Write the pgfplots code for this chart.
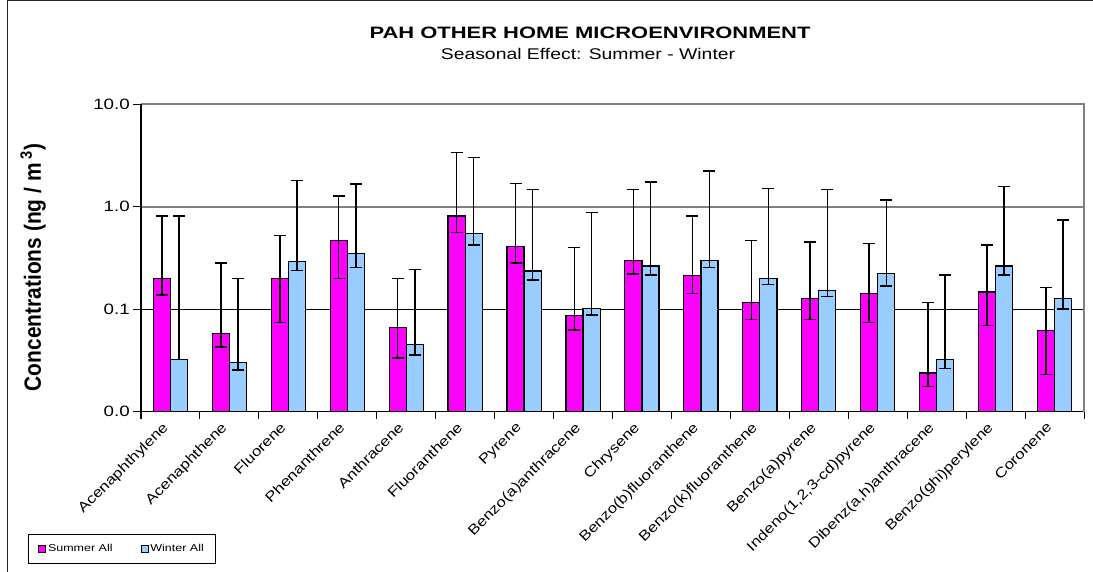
\documentclass[border=0pt]{standalone}
\usepackage{fontspec}
\setmainfont{Liberation Sans}[FakeStretch=1.25]
\newfontfamily\titlefont{Liberation Sans}[FakeStretch=1.33]
\newfontfamily\yfont{Liberation Sans}[FakeStretch=0.89]
\newfontfamily\xfont{Liberation Sans}[FakeStretch=1.2]
\usepackage{pgfplots}
\usepackage{pgfplotstable}
\pgfplotsset{compat=1.18}

\definecolor{summer}{HTML}{FF00FF}
\definecolor{winter}{HTML}{99CCFF}
\definecolor{framegray}{HTML}{808080}

% mean, upper and lower end of the error bar
\pgfplotstableread{
x y hi lo
0 0.200 0.813 0.138
1 0.0578 0.281 0.0429
2 0.200 0.522 0.0741
3 0.467 1.27 0.200
4 0.0662 0.200 0.0335
5 0.813 3.37 0.559
6 0.412 1.68 0.281
7 0.0873 0.399 0.0624
8 0.301 1.47 0.221
9 0.215 0.813 0.142
10 0.116 0.467 0.0792
11 0.128 0.454 0.0792
12 0.142 0.437 0.0741
13 0.0239 0.116 0.0176
14 0.147 0.424 0.0692
15 0.0624 0.163 0.0230
}\summerdata

\pgfplotstableread{
x y hi lo
0 0.0325 0.813 0.0322
1 0.0301 0.199 0.0256
2 0.292 1.80 0.238
3 0.347 1.67 0.255
4 0.0456 0.245 0.0358
5 0.543 3.01 0.424
6 0.236 1.47 0.193
7 0.1007 0.877 0.088
8 0.264 1.75 0.215
9 0.301 2.22 0.255
10 0.200 1.51 0.174
11 0.152 1.47 0.133
12 0.222 1.16 0.169
13 0.0325 0.215 0.0264
14 0.264 1.57 0.215
15 0.128 0.738 0.1007
}\winterdata

\begin{document}
\begin{tikzpicture}
\useasboundingbox (0pt,0pt) rectangle (1093pt,-572pt);
% chart area border
\draw[black!85, line width=1pt] (7pt,-573pt) -- (7pt,-1pt) -- (1094pt,-1pt);

\node[anchor=base, font=\titlefont\bfseries\fontsize{16.5}{20}\selectfont] at (590pt,-38.3pt) {PAH OTHER HOME MICROENVIRONMENT};
\node[anchor=base, font=\fontsize{15.5}{18}\selectfont] at (588pt,-59.3pt) {Seasonal Effect: Summer - Winter};

\begin{axis}[name=ax,
    at={(141pt,-411.7pt)}, anchor=south west,
    scale only axis, width=943pt, height=307.5pt,
    ymode=log, ymin=0.01, ymax=10, log origin=infty,
    xmin=-0.5, xmax=15.5,
    ybar=0pt, bar width=0.29,
    axis x line*=bottom, axis y line*=left,
    axis line style={-, black, line width=1.1pt},
    tick align=outside,
    major tick length=7pt,
    every tick/.style={draw=black, line width=1pt},
    % ticks sit between the categories, names are moved to the middle
    xtick={-0.5,0.5,...,15.5},
    xticklabels={Acenaphthylene,Acenaphthene,Fluorene,Phenanthrene,Anthracene,Fluoranthene,Pyrene,Benzo(a)anthracene,Chrysene,Benzo(b)fluoranthene,Benzo(k)fluoranthene,Benzo(a)pyrene,{Indeno(1,2,3-cd)pyrene},{Dibenz(a,h)anthracene},Benzo(ghi)perylene,Coronene,{}},
    xticklabel style={font=\xfont\fontsize{14}{16}\selectfont, xshift=20.5pt, yshift=-1pt, rotate=45, anchor=north east, inner sep=1pt},
    xminorticks=false,
    ytick={0.01,0.1,1,10},
    yticklabels={0.0,0.1,1.0,10.0},
    yminorticks=false,
    yticklabel style={font=\fontsize{15}{18}\selectfont, inner sep=4pt},
    ylabel={Concentrations (ng / m\,\textsuperscript{3})},
    every axis y label/.style={at={(axis description cs:-0.1145,0.469)}, rotate=90, anchor=center, font=\yfont\bfseries\fontsize{23.5}{26}\selectfont},
    legend columns=2,
    legend style={at={(axis description cs:-0.0201,-0.4465)}, anchor=center,
        draw=black, line width=0.8pt, font=\fontsize{10}{12}\selectfont,
        inner xsep=10pt, inner ysep=8pt,
        /tikz/every even column/.append style={column sep=26pt}},
    error bars/y dir=both,
    error bars/y explicit,
    error bars/error bar style={black, line width=1.5pt},
    error bars/error mark options={black, line width=1.5pt, mark size=6pt, rotate=90},
  ]
  \draw[framegray, line width=1.6pt] (rel axis cs:0,0.666667) -- (rel axis cs:1,0.666667);
  \draw[black, line width=0.6pt] (rel axis cs:0,0.333333) -- (rel axis cs:1,0.333333);

  \addplot[fill=summer, draw=black, line width=1.2pt,
      legend image code/.code={\draw[fill=summer, draw=black, line width=0.8pt] (0pt,-3.5pt) rectangle (7pt,3.5pt);}]
    table[x=x, y=y, y error plus expr=\thisrow{hi}-\thisrow{y}, y error minus expr=\thisrow{y}-\thisrow{lo}]{\summerdata};
  \addlegendentry{Summer All}
  \addplot[fill=winter, draw=black, line width=1.2pt,
      legend image code/.code={\draw[fill=winter, draw=black, line width=0.8pt] (0pt,-3.5pt) rectangle (7pt,3.5pt);}]
    table[x=x, y=y, y error plus expr=\thisrow{hi}-\thisrow{y}, y error minus expr=\thisrow{y}-\thisrow{lo}]{\winterdata};
  \addlegendentry{Winter All}
\end{axis}
\draw[framegray, line width=1.6pt] (ax.north west) -- (ax.north east) -- (ax.south east);
\draw[black, line width=1.1pt] (ax.south west) -- (ax.north west);
% tick marks of the frame: category separators and the decades
\foreach \i in {0,...,16}
  \draw[black, line width=1pt] ({(141+58.9375*\i)*1pt},-411.7pt) -- ++(0pt,-7pt);
\foreach \j in {0,...,3}
  \draw[black, line width=1pt] (141pt,{(-411.7+102.5*\j)*1pt}) -- ++(-8pt,0pt);
\end{tikzpicture}
\end{document}
